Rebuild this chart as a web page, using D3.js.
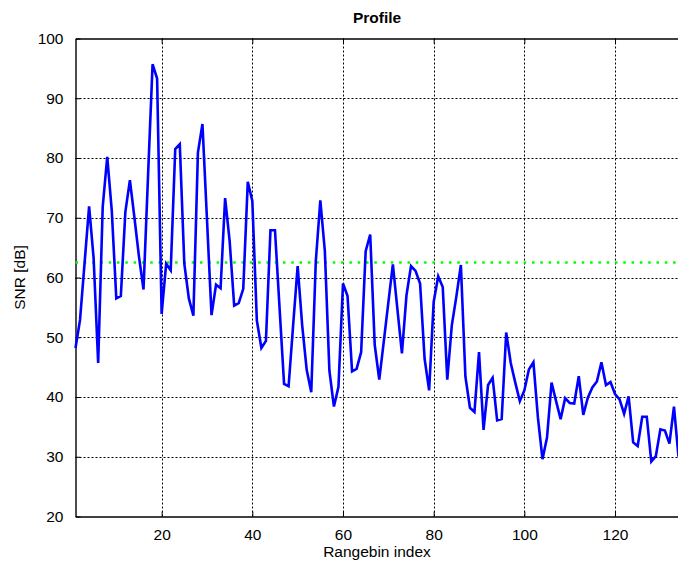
<!DOCTYPE html>
<html>
<head>
<meta charset="utf-8">
<script src="https://cdn.jsdelivr.net/npm/d3@7"></script>
<style>
  body { margin: 0; background: #fff; }
  text { font-family: "Liberation Sans", Arial, sans-serif; }
</style>
</head>
<body>
<script>
// SNR per range bin (bins 1..134)
const snr = [
  48.2, 52.9, 62.4, 71.9, 63.2, 45.7, 71.8, 80.2, 71.2, 56.5,
  56.9, 71.0, 76.3, 70.0, 63.5, 58.0, 77.0, 95.7, 93.3, 53.9,
  62.3, 61.2, 81.5, 82.3, 62.3, 56.5, 53.6, 80.9, 85.7, 69.7,
  53.7, 58.8, 58.2, 73.3, 66.1, 55.3, 55.7, 58.1, 76.0, 72.8,
  52.8, 48.2, 49.4, 67.9, 67.9, 55.0, 42.2, 41.8, 52.0, 61.9,
  52.0, 44.5, 40.8, 62.7, 72.9, 64.4, 44.4, 38.4, 41.7, 59.0,
  56.9, 44.3, 44.7, 47.5, 64.4, 67.2, 48.7, 42.9, 49.3, 55.8,
  62.2, 54.7, 47.3, 57.0, 61.9, 61.1, 59.0, 46.4, 41.1, 55.9,
  60.2, 58.4, 42.9, 52.0, 56.8, 62.1, 43.4, 38.2, 37.5, 47.5,
  34.5, 42.0, 43.2, 36.1, 36.3, 50.8, 45.7, 42.4, 39.3, 41.1,
  44.6, 45.8, 36.5, 29.6, 33.2, 42.4, 39.3, 36.3, 39.8, 39.0,
  38.9, 43.5, 37.0, 39.9, 41.6, 42.6, 45.8, 42.0, 42.5, 40.5,
  39.6, 37.2, 40.1, 32.4, 31.8, 36.7, 36.7, 29.2, 30.1, 34.6,
  34.4, 32.2, 38.4, 30.0
];
const bins = snr.map((d, i) => i + 1);
const threshold = 62.5;
const xTicks = [20, 40, 60, 80, 100, 120];
const yTicks = [20, 30, 40, 50, 60, 70, 80, 90, 100];

const width = 678, height = 568;
const plotLeft = 75.5, plotRight = 678.5, plotTop = 38.5, plotBottom = 516.5;

var svg = d3.select("body").append("svg")
  .attr("width", width)
  .attr("height", height);

var x = d3.scaleLinear().domain([1, 134]).range([plotLeft, plotRight]);
var y = d3.scaleLinear().domain([20, 100]).range([plotBottom, plotTop]);

// grid, dotted black
svg.append("g").selectAll("line")
  .data(xTicks)
  .enter().append("line")
  .attr("x1", d => Math.round(x(d)) + 0.5).attr("x2", d => Math.round(x(d)) + 0.5)
  .attr("y1", plotTop).attr("y2", plotBottom)
  .attr("stroke", "#000").attr("stroke-width", 1)
  .attr("stroke-dasharray", "2,2");

svg.append("g").selectAll("line")
  .data(yTicks.slice(1, -1))
  .enter().append("line")
  .attr("x1", plotLeft).attr("x2", plotRight)
  .attr("y1", d => Math.round(y(d)) + 0.5).attr("y2", d => Math.round(y(d)) + 0.5)
  .attr("stroke", "#000").attr("stroke-width", 1)
  .attr("stroke-dasharray", "2,2");

// axes, ticks pointing inward
var xAxis = d3.axisBottom(x).tickValues(xTicks).tickSizeInner(-5).tickSizeOuter(0).tickPadding(12);
var yAxis = d3.axisLeft(y).tickValues(yTicks).tickSizeInner(-5).tickSizeOuter(0).tickPadding(12);

var gx = svg.append("g").attr("transform", "translate(0," + plotBottom + ")").call(xAxis);
var gy = svg.append("g").attr("transform", "translate(" + plotLeft + ",0)").call(yAxis);
var gt = svg.append("g").attr("transform", "translate(0," + plotTop + ")")
  .call(d3.axisTop(x).tickValues(xTicks).tickSizeInner(-5).tickSizeOuter(0).tickFormat(""));

[gx, gy, gt].forEach(function(g) {
  g.select(".domain").attr("stroke", "#000").attr("stroke-width", 1.4);
  g.selectAll(".tick line").attr("stroke", "#000");
  g.selectAll("text").attr("font-size", 15.5).attr("fill", "#000")
    .style("font-family", "'Liberation Sans', Arial, sans-serif");
});

// threshold line
svg.append("line")
  .attr("x1", plotLeft).attr("x2", plotRight)
  .attr("y1", y(threshold)).attr("y2", y(threshold))
  .attr("stroke", "#00ff00").attr("stroke-width", 2.5)
  .attr("stroke-dasharray", "2.5,5.8");

// the profile
var line = d3.line()
  .x((d, i) => x(bins[i]))
  .y(d => y(d));

svg.append("path")
  .datum(snr)
  .attr("d", line)
  .attr("fill", "none")
  .attr("stroke", "#0000ff")
  .attr("stroke-width", 2.6)
  .attr("stroke-linejoin", "miter");

// labels
svg.append("text")
  .attr("x", (plotLeft + plotRight) / 2).attr("y", 23)
  .attr("text-anchor", "middle")
  .attr("font-size", 15.5).attr("font-weight", "bold")
  .text("Profile");

svg.append("text")
  .attr("x", (plotLeft + plotRight) / 2).attr("y", 557)
  .attr("text-anchor", "middle")
  .attr("font-size", 15.5)
  .text("Rangebin index");

svg.append("text")
  .attr("transform", "translate(25," + (plotTop + plotBottom) / 2 + ") rotate(-90)")
  .attr("text-anchor", "middle")
  .attr("font-size", 15.5)
  .text("SNR [dB]");
</script>
</body>
</html>
